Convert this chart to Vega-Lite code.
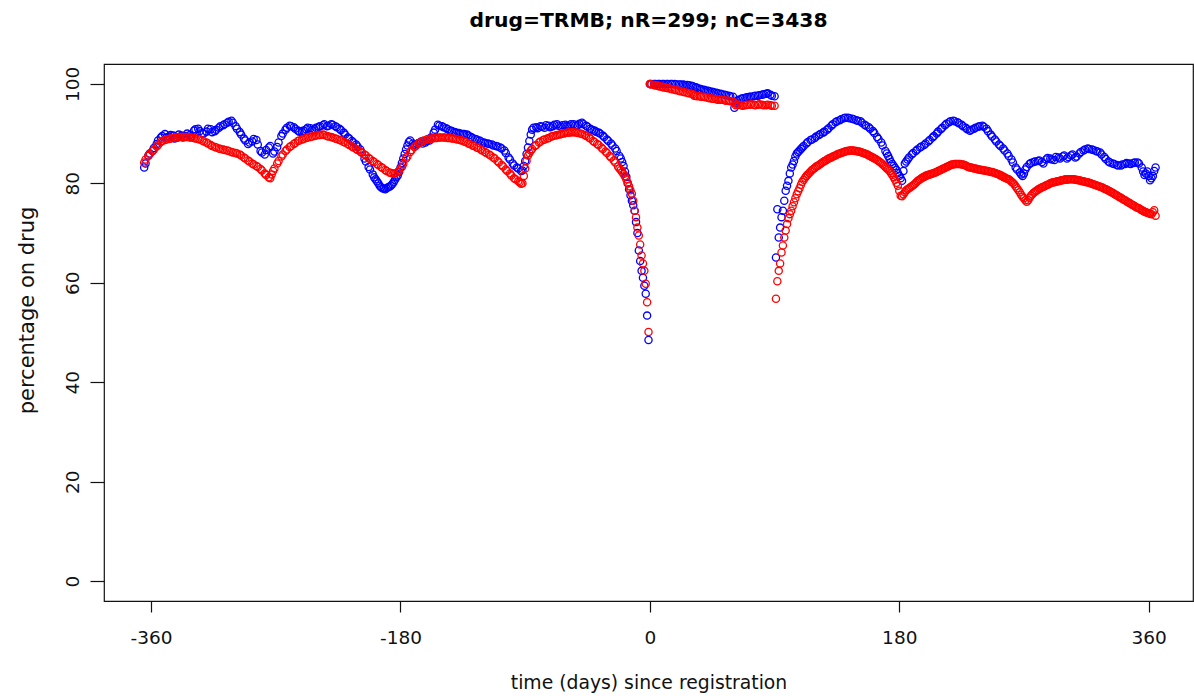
{
"$schema": "https://vega.github.io/schema/vega-lite/v6.json",
"autosize": {"type": "none"},
"width": 1089,
"height": 537,
"padding": {"left": 104, "top": 64, "right": 1, "bottom": 95},
"background": "white",
"config": {"view": {"stroke": "#111", "strokeWidth": 1.2}, "font": "DejaVu Sans"},
"title": {"text": "drug=TRMB; nR=299; nC=3438", "font": "DejaVu Sans", "fontSize": 20.3, "fontWeight": "bold", "color": "#000", "anchor": "middle", "offset": 33},
"data": {"values": [
{"d":-365,"s":"b","v":83.2},{"d":-364,"s":"b","v":84.0},{"d":-362,"s":"b","v":85.6},{"d":-359,"s":"b","v":86.5},{"d":-356,"s":"b","v":87.9},{"d":-353,"s":"b","v":89.2},{"d":-350,"s":"b","v":89.9},{"d":-347,"s":"b","v":89.4},{"d":-344,"s":"b","v":89.6},{"d":-341,"s":"b","v":89.2},{"d":-338,"s":"b","v":89.6},{"d":-335,"s":"b","v":89.5},{"d":-332,"s":"b","v":89.7},{"d":-329,"s":"b","v":90.6},{"d":-326,"s":"b","v":91.0},{"d":-323,"s":"b","v":90.1},{"d":-320,"s":"b","v":90.4},{"d":-317,"s":"b","v":90.9},{"d":-314,"s":"b","v":90.5},{"d":-311,"s":"b","v":91.2},{"d":-308,"s":"b","v":91.7},{"d":-305,"s":"b","v":92.2},{"d":-302,"s":"b","v":92.6},{"d":-299,"s":"b","v":91.5},{"d":-296,"s":"b","v":90.3},{"d":-293,"s":"b","v":89.0},{"d":-290,"s":"b","v":87.9},{"d":-287,"s":"b","v":88.4},{"d":-284,"s":"b","v":88.7},{"d":-281,"s":"b","v":86.5},{"d":-278,"s":"b","v":85.8},{"d":-275,"s":"b","v":87.2},{"d":-272,"s":"b","v":86.0},{"d":-269,"s":"b","v":87.3},{"d":-266,"s":"b","v":89.5},{"d":-263,"s":"b","v":90.8},{"d":-260,"s":"b","v":91.6},{"d":-257,"s":"b","v":91.3},{"d":-254,"s":"b","v":90.6},{"d":-251,"s":"b","v":90.3},{"d":-248,"s":"b","v":90.9},{"d":-245,"s":"b","v":91.1},{"d":-242,"s":"b","v":90.9},{"d":-239,"s":"b","v":91.4},{"d":-236,"s":"b","v":91.7},{"d":-233,"s":"b","v":91.5},{"d":-230,"s":"b","v":91.9},{"d":-227,"s":"b","v":91.5},{"d":-224,"s":"b","v":91.0},{"d":-221,"s":"b","v":90.2},{"d":-218,"s":"b","v":89.2},{"d":-215,"s":"b","v":88.5},{"d":-212,"s":"b","v":87.8},{"d":-209,"s":"b","v":86.8},{"d":-206,"s":"b","v":85.0},{"d":-203,"s":"b","v":83.3},{"d":-200,"s":"b","v":81.8},{"d":-198,"s":"b","v":80.8},{"d":-196,"s":"b","v":80.0},{"d":-194,"s":"b","v":79.2},{"d":-192,"s":"b","v":78.9},{"d":-190,"s":"b","v":79.0},{"d":-188,"s":"b","v":79.3},{"d":-186,"s":"b","v":79.8},{"d":-184,"s":"b","v":80.7},{"d":-182,"s":"b","v":81.6},{"d":-180,"s":"b","v":83.2},{"d":-178,"s":"b","v":85.0},{"d":-176,"s":"b","v":86.8},{"d":-174,"s":"b","v":88.3},{"d":-171,"s":"b","v":88.0},{"d":-168,"s":"b","v":87.9},{"d":-165,"s":"b","v":88.4},{"d":-162,"s":"b","v":88.2},{"d":-159,"s":"b","v":88.6},{"d":-156,"s":"b","v":90.2},{"d":-153,"s":"b","v":91.8},{"d":-150,"s":"b","v":91.5},{"d":-147,"s":"b","v":91.1},{"d":-144,"s":"b","v":90.6},{"d":-141,"s":"b","v":90.3},{"d":-138,"s":"b","v":90.1},{"d":-135,"s":"b","v":89.9},{"d":-132,"s":"b","v":89.8},{"d":-129,"s":"b","v":89.3},{"d":-126,"s":"b","v":88.9},{"d":-123,"s":"b","v":88.6},{"d":-120,"s":"b","v":88.2},{"d":-117,"s":"b","v":88.0},{"d":-114,"s":"b","v":87.8},{"d":-111,"s":"b","v":87.5},{"d":-108,"s":"b","v":87.2},{"d":-105,"s":"b","v":86.6},{"d":-102,"s":"b","v":85.2},{"d":-99,"s":"b","v":84.0},{"d":-96,"s":"b","v":83.2},{"d":-93,"s":"b","v":82.5},{"d":-91,"s":"b","v":83.5},{"d":-89,"s":"b","v":85.9},{"d":-87,"s":"b","v":88.5},{"d":-85,"s":"b","v":90.8},{"d":-82,"s":"b","v":91.3},{"d":-79,"s":"b","v":91.5},{"d":-76,"s":"b","v":91.2},{"d":-73,"s":"b","v":91.6},{"d":-70,"s":"b","v":91.5},{"d":-67,"s":"b","v":91.9},{"d":-64,"s":"b","v":91.4},{"d":-61,"s":"b","v":91.8},{"d":-58,"s":"b","v":91.6},{"d":-55,"s":"b","v":91.9},{"d":-52,"s":"b","v":91.7},{"d":-49,"s":"b","v":92.2},{"d":-46,"s":"b","v":91.6},{"d":-43,"s":"b","v":91.0},{"d":-40,"s":"b","v":90.6},{"d":-37,"s":"b","v":90.2},{"d":-34,"s":"b","v":89.6},{"d":-31,"s":"b","v":88.8},{"d":-28,"s":"b","v":88.0},{"d":-25,"s":"b","v":87.0},{"d":-22,"s":"b","v":85.5},{"d":-20,"s":"b","v":84.3},{"d":-18,"s":"b","v":82.4},{"d":-16,"s":"b","v":80.0},{"d":-15,"s":"b","v":78.8},{"d":-14,"s":"b","v":77.6},{"d":-13,"s":"b","v":76.5},{"d":-12,"s":"b","v":75.6},{"d":-11,"s":"b","v":74.5},{"d":-10,"s":"b","v":72.2},{"d":-9,"s":"b","v":70.0},{"d":-8,"s":"b","v":66.5},{"d":-7,"s":"b","v":64.4},{"d":-6,"s":"b","v":62.4},{"d":-5,"s":"b","v":61.0},{"d":-4,"s":"b","v":59.4},{"d":-3,"s":"b","v":57.8},{"d":-2,"s":"b","v":53.4},{"d":-1,"s":"b","v":48.5},
{"d":-361,"s":"b","v":86.0},{"d":-358,"s":"b","v":87.1},{"d":-355,"s":"b","v":88.6},{"d":-352,"s":"b","v":89.5},{"d":-349,"s":"b","v":89.2},{"d":-346,"s":"b","v":89.7},{"d":-343,"s":"b","v":89.0},{"d":-340,"s":"b","v":89.8},{"d":-337,"s":"b","v":89.2},{"d":-334,"s":"b","v":90.0},{"d":-331,"s":"b","v":89.4},{"d":-328,"s":"b","v":90.9},{"d":-325,"s":"b","v":90.5},{"d":-322,"s":"b","v":90.0},{"d":-319,"s":"b","v":91.0},{"d":-316,"s":"b","v":90.3},{"d":-313,"s":"b","v":90.8},{"d":-310,"s":"b","v":91.5},{"d":-307,"s":"b","v":91.9},{"d":-304,"s":"b","v":92.4},{"d":-301,"s":"b","v":92.2},{"d":-298,"s":"b","v":91.0},{"d":-295,"s":"b","v":89.8},{"d":-292,"s":"b","v":88.6},{"d":-289,"s":"b","v":88.2},{"d":-286,"s":"b","v":88.9},{"d":-283,"s":"b","v":87.8},{"d":-280,"s":"b","v":86.2},{"d":-277,"s":"b","v":86.7},{"d":-274,"s":"b","v":87.5},{"d":-271,"s":"b","v":86.4},{"d":-268,"s":"b","v":88.2},{"d":-265,"s":"b","v":90.0},{"d":-262,"s":"b","v":91.2},{"d":-259,"s":"b","v":91.5},{"d":-256,"s":"b","v":91.0},{"d":-253,"s":"b","v":90.4},{"d":-250,"s":"b","v":90.6},{"d":-247,"s":"b","v":91.2},{"d":-244,"s":"b","v":90.7},{"d":-241,"s":"b","v":91.2},{"d":-238,"s":"b","v":91.5},{"d":-235,"s":"b","v":91.9},{"d":-232,"s":"b","v":91.6},{"d":-229,"s":"b","v":91.8},{"d":-226,"s":"b","v":91.3},{"d":-223,"s":"b","v":90.7},{"d":-220,"s":"b","v":89.8},{"d":-217,"s":"b","v":89.0},{"d":-214,"s":"b","v":88.2},{"d":-211,"s":"b","v":87.4},{"d":-208,"s":"b","v":86.2},{"d":-205,"s":"b","v":84.4},{"d":-202,"s":"b","v":82.8},{"d":-199,"s":"b","v":81.2},{"d":-197,"s":"b","v":80.4},{"d":-195,"s":"b","v":79.5},{"d":-193,"s":"b","v":79.0},{"d":-191,"s":"b","v":78.8},{"d":-189,"s":"b","v":79.2},{"d":-187,"s":"b","v":79.5},{"d":-185,"s":"b","v":80.2},{"d":-183,"s":"b","v":81.2},{"d":-181,"s":"b","v":82.3},{"d":-179,"s":"b","v":84.1},{"d":-177,"s":"b","v":85.9},{"d":-175,"s":"b","v":87.6},{"d":-173,"s":"b","v":88.6},{"d":-170,"s":"b","v":87.7},{"d":-167,"s":"b","v":88.1},{"d":-164,"s":"b","v":88.0},{"d":-161,"s":"b","v":88.5},{"d":-158,"s":"b","v":89.2},{"d":-155,"s":"b","v":90.8},{"d":-152,"s":"b","v":91.6},{"d":-149,"s":"b","v":91.3},{"d":-146,"s":"b","v":90.9},{"d":-143,"s":"b","v":90.5},{"d":-140,"s":"b","v":90.2},{"d":-137,"s":"b","v":90.0},{"d":-134,"s":"b","v":89.9},{"d":-131,"s":"b","v":89.6},{"d":-128,"s":"b","v":89.1},{"d":-125,"s":"b","v":88.8},{"d":-122,"s":"b","v":88.4},{"d":-119,"s":"b","v":88.1},{"d":-116,"s":"b","v":87.9},{"d":-113,"s":"b","v":87.6},{"d":-110,"s":"b","v":87.4},{"d":-107,"s":"b","v":87.0},{"d":-104,"s":"b","v":86.1},{"d":-101,"s":"b","v":84.8},{"d":-98,"s":"b","v":83.6},{"d":-95,"s":"b","v":83.0},{"d":-92,"s":"b","v":82.6},{"d":-90,"s":"b","v":84.5},{"d":-88,"s":"b","v":87.2},{"d":-86,"s":"b","v":89.8},{"d":-84,"s":"b","v":91.2},{"d":-81,"s":"b","v":91.1},{"d":-78,"s":"b","v":91.4},{"d":-75,"s":"b","v":91.7},{"d":-72,"s":"b","v":91.3},{"d":-69,"s":"b","v":91.8},{"d":-66,"s":"b","v":91.6},{"d":-63,"s":"b","v":91.7},{"d":-60,"s":"b","v":91.5},{"d":-57,"s":"b","v":91.9},{"d":-54,"s":"b","v":91.6},{"d":-51,"s":"b","v":92.0},{"d":-48,"s":"b","v":91.9},{"d":-45,"s":"b","v":91.4},{"d":-42,"s":"b","v":90.8},{"d":-39,"s":"b","v":90.4},{"d":-36,"s":"b","v":90.0},{"d":-33,"s":"b","v":89.3},{"d":-30,"s":"b","v":88.5},{"d":-27,"s":"b","v":87.6},{"d":-24,"s":"b","v":86.5},{"d":-21,"s":"b","v":85.0},{"d":-19,"s":"b","v":83.5},{"d":-17,"s":"b","v":81.3},
{"d":0,"s":"b","v":100},{"d":3,"s":"b","v":100},{"d":6,"s":"b","v":100},{"d":9,"s":"b","v":100},{"d":12,"s":"b","v":100},{"d":15,"s":"b","v":100},{"d":18,"s":"b","v":100},{"d":21,"s":"b","v":99.9},{"d":24,"s":"b","v":99.9},{"d":27,"s":"b","v":99.8},{"d":30,"s":"b","v":99.6},{"d":33,"s":"b","v":99.3},{"d":36,"s":"b","v":99.0},{"d":39,"s":"b","v":98.8},{"d":42,"s":"b","v":98.6},{"d":45,"s":"b","v":98.4},{"d":48,"s":"b","v":98.2},{"d":51,"s":"b","v":98.0},{"d":54,"s":"b","v":97.8},{"d":57,"s":"b","v":97.6},{"d":60,"s":"b","v":97.4},{"d":61,"s":"b","v":95.2},{"d":63,"s":"b","v":96.6},{"d":66,"s":"b","v":97.0},{"d":69,"s":"b","v":97.2},{"d":72,"s":"b","v":97.4},{"d":75,"s":"b","v":97.5},{"d":78,"s":"b","v":97.6},{"d":81,"s":"b","v":97.8},{"d":84,"s":"b","v":98.0},{"d":87,"s":"b","v":97.8},{"d":90,"s":"b","v":97.5},
{"d":1,"s":"b","v":100},{"d":4,"s":"b","v":100},{"d":7,"s":"b","v":100},{"d":10,"s":"b","v":100},{"d":13,"s":"b","v":100},{"d":16,"s":"b","v":100},{"d":19,"s":"b","v":99.9},{"d":22,"s":"b","v":99.9},{"d":25,"s":"b","v":99.8},{"d":28,"s":"b","v":99.7},{"d":31,"s":"b","v":99.5},{"d":34,"s":"b","v":99.2},{"d":37,"s":"b","v":98.9},{"d":40,"s":"b","v":98.7},{"d":43,"s":"b","v":98.5},{"d":46,"s":"b","v":98.3},{"d":49,"s":"b","v":98.1},{"d":52,"s":"b","v":97.9},{"d":55,"s":"b","v":97.7},{"d":58,"s":"b","v":97.5},{"d":62,"s":"b","v":96.2},{"d":64,"s":"b","v":96.8},{"d":67,"s":"b","v":97.1},{"d":70,"s":"b","v":97.3},{"d":73,"s":"b","v":97.4},{"d":76,"s":"b","v":97.6},{"d":79,"s":"b","v":97.7},{"d":82,"s":"b","v":97.9},{"d":85,"s":"b","v":98.1},{"d":88,"s":"b","v":97.6},
{"d":91,"s":"b","v":65.1},{"d":92,"s":"b","v":74.8},{"d":93,"s":"b","v":69.1},{"d":94,"s":"b","v":71.1},{"d":95,"s":"b","v":73.2},{"d":96,"s":"b","v":74.5},{"d":97,"s":"b","v":76.5},{"d":98,"s":"b","v":78.5},{"d":99,"s":"b","v":79.5},{"d":100,"s":"b","v":80.5},{"d":101,"s":"b","v":82.0},{"d":102,"s":"b","v":83.2},{"d":104,"s":"b","v":84.5},{"d":106,"s":"b","v":86.0},{"d":108,"s":"b","v":86.6},{"d":110,"s":"b","v":87.2},{"d":113,"s":"b","v":88.0},{"d":116,"s":"b","v":88.7},{"d":119,"s":"b","v":89.1},{"d":122,"s":"b","v":89.7},{"d":125,"s":"b","v":90.2},{"d":128,"s":"b","v":90.8},{"d":131,"s":"b","v":91.6},{"d":134,"s":"b","v":92.3},{"d":137,"s":"b","v":92.7},{"d":140,"s":"b","v":93.1},{"d":143,"s":"b","v":93.2},{"d":146,"s":"b","v":93.0},{"d":149,"s":"b","v":92.7},{"d":152,"s":"b","v":92.5},{"d":155,"s":"b","v":91.8},{"d":158,"s":"b","v":91.3},{"d":161,"s":"b","v":90.5},{"d":164,"s":"b","v":89.3},{"d":167,"s":"b","v":88.2},{"d":170,"s":"b","v":86.5},{"d":172,"s":"b","v":85.5},{"d":174,"s":"b","v":84.3},{"d":176,"s":"b","v":83.5},{"d":178,"s":"b","v":82.7},{"d":180,"s":"b","v":81.5},{"d":182,"s":"b","v":80.5},{"d":184,"s":"b","v":84.0},{"d":186,"s":"b","v":84.8},{"d":189,"s":"b","v":85.8},{"d":192,"s":"b","v":86.5},{"d":195,"s":"b","v":87.2},{"d":198,"s":"b","v":87.7},{"d":201,"s":"b","v":88.4},{"d":204,"s":"b","v":89.2},{"d":207,"s":"b","v":90.0},{"d":210,"s":"b","v":90.9},{"d":213,"s":"b","v":91.7},{"d":216,"s":"b","v":92.3},{"d":219,"s":"b","v":92.6},{"d":222,"s":"b","v":92.3},{"d":225,"s":"b","v":91.8},{"d":228,"s":"b","v":91.2},{"d":231,"s":"b","v":90.6},{"d":234,"s":"b","v":91.0},{"d":237,"s":"b","v":91.4},{"d":240,"s":"b","v":91.6},{"d":243,"s":"b","v":91.0},{"d":246,"s":"b","v":89.8},{"d":249,"s":"b","v":88.8},{"d":252,"s":"b","v":87.8},{"d":255,"s":"b","v":87.0},{"d":258,"s":"b","v":86.0},{"d":261,"s":"b","v":84.8},{"d":264,"s":"b","v":83.2},{"d":267,"s":"b","v":82.2},{"d":269,"s":"b","v":81.5},{"d":271,"s":"b","v":82.8},{"d":274,"s":"b","v":83.9},{"d":277,"s":"b","v":84.3},{"d":280,"s":"b","v":84.5},{"d":283,"s":"b","v":84.3},{"d":286,"s":"b","v":84.8},{"d":289,"s":"b","v":85.0},{"d":292,"s":"b","v":84.7},{"d":295,"s":"b","v":85.2},{"d":298,"s":"b","v":85.4},{"d":301,"s":"b","v":85.0},{"d":304,"s":"b","v":85.6},{"d":307,"s":"b","v":85.2},{"d":310,"s":"b","v":86.0},{"d":313,"s":"b","v":86.6},{"d":316,"s":"b","v":87.0},{"d":319,"s":"b","v":86.8},{"d":322,"s":"b","v":86.5},{"d":325,"s":"b","v":86.2},{"d":328,"s":"b","v":85.3},{"d":331,"s":"b","v":84.4},{"d":334,"s":"b","v":84.0},{"d":337,"s":"b","v":83.7},{"d":340,"s":"b","v":83.6},{"d":343,"s":"b","v":83.9},{"d":346,"s":"b","v":84.0},{"d":349,"s":"b","v":84.1},{"d":352,"s":"b","v":84.2},{"d":355,"s":"b","v":83.2},{"d":357,"s":"b","v":81.7},{"d":359,"s":"b","v":82.4},{"d":361,"s":"b","v":80.6},{"d":363,"s":"b","v":81.5},{"d":365,"s":"b","v":83.2},
{"d":103,"s":"b","v":83.8},{"d":105,"s":"b","v":85.4},{"d":107,"s":"b","v":86.3},{"d":109,"s":"b","v":86.9},{"d":111,"s":"b","v":87.5},{"d":114,"s":"b","v":88.3},{"d":117,"s":"b","v":88.8},{"d":120,"s":"b","v":89.4},{"d":123,"s":"b","v":89.9},{"d":126,"s":"b","v":90.4},{"d":129,"s":"b","v":91.1},{"d":132,"s":"b","v":91.9},{"d":135,"s":"b","v":92.5},{"d":138,"s":"b","v":92.9},{"d":141,"s":"b","v":93.2},{"d":144,"s":"b","v":93.1},{"d":147,"s":"b","v":92.9},{"d":150,"s":"b","v":92.6},{"d":153,"s":"b","v":92.2},{"d":156,"s":"b","v":91.6},{"d":159,"s":"b","v":91.0},{"d":162,"s":"b","v":90.1},{"d":165,"s":"b","v":88.9},{"d":168,"s":"b","v":87.6},{"d":171,"s":"b","v":86.0},{"d":173,"s":"b","v":84.9},{"d":175,"s":"b","v":83.9},{"d":177,"s":"b","v":83.1},{"d":179,"s":"b","v":82.1},{"d":181,"s":"b","v":81.0},{"d":183,"s":"b","v":82.5},{"d":185,"s":"b","v":84.4},{"d":187,"s":"b","v":85.2},{"d":190,"s":"b","v":86.1},{"d":193,"s":"b","v":86.8},{"d":196,"s":"b","v":87.4},{"d":199,"s":"b","v":88.0},{"d":202,"s":"b","v":88.7},{"d":205,"s":"b","v":89.5},{"d":208,"s":"b","v":90.4},{"d":211,"s":"b","v":91.2},{"d":214,"s":"b","v":92.0},{"d":217,"s":"b","v":92.5},{"d":220,"s":"b","v":92.5},{"d":223,"s":"b","v":92.1},{"d":226,"s":"b","v":91.5},{"d":229,"s":"b","v":90.9},{"d":232,"s":"b","v":90.8},{"d":235,"s":"b","v":91.2},{"d":238,"s":"b","v":91.5},{"d":241,"s":"b","v":91.4},{"d":244,"s":"b","v":90.5},{"d":247,"s":"b","v":89.4},{"d":250,"s":"b","v":88.4},{"d":253,"s":"b","v":87.5},{"d":256,"s":"b","v":86.6},{"d":259,"s":"b","v":85.5},{"d":262,"s":"b","v":84.2},{"d":265,"s":"b","v":82.8},{"d":268,"s":"b","v":81.8},{"d":270,"s":"b","v":82.0},{"d":272,"s":"b","v":83.3},{"d":275,"s":"b","v":84.1},{"d":278,"s":"b","v":84.4},{"d":281,"s":"b","v":84.6},{"d":284,"s":"b","v":84.0},{"d":287,"s":"b","v":85.1},{"d":290,"s":"b","v":84.8},{"d":293,"s":"b","v":85.3},{"d":296,"s":"b","v":85.0},{"d":299,"s":"b","v":85.6},{"d":302,"s":"b","v":85.3},{"d":305,"s":"b","v":85.8},{"d":308,"s":"b","v":85.4},{"d":311,"s":"b","v":86.3},{"d":314,"s":"b","v":86.8},{"d":317,"s":"b","v":86.9},{"d":320,"s":"b","v":86.7},{"d":323,"s":"b","v":86.4},{"d":326,"s":"b","v":85.8},{"d":329,"s":"b","v":84.9},{"d":332,"s":"b","v":84.2},{"d":335,"s":"b","v":83.9},{"d":338,"s":"b","v":83.6},{"d":341,"s":"b","v":83.8},{"d":344,"s":"b","v":84.1},{"d":347,"s":"b","v":83.9},{"d":350,"s":"b","v":84.2},{"d":353,"s":"b","v":84.0},{"d":356,"s":"b","v":82.4},{"d":358,"s":"b","v":82.0},{"d":360,"s":"b","v":81.5},{"d":362,"s":"b","v":81.0},{"d":364,"s":"b","v":82.5},
{"d":-365,"s":"r","v":84.2},{"d":-362,"s":"r","v":85.5},{"d":-359,"s":"r","v":86.5},{"d":-356,"s":"r","v":87.4},{"d":-353,"s":"r","v":88.3},{"d":-350,"s":"r","v":88.7},{"d":-347,"s":"r","v":88.9},{"d":-344,"s":"r","v":89.1},{"d":-341,"s":"r","v":89.2},{"d":-338,"s":"r","v":89.3},{"d":-335,"s":"r","v":89.3},{"d":-332,"s":"r","v":89.2},{"d":-329,"s":"r","v":89.1},{"d":-326,"s":"r","v":88.9},{"d":-323,"s":"r","v":88.6},{"d":-320,"s":"r","v":88.2},{"d":-317,"s":"r","v":87.7},{"d":-314,"s":"r","v":87.3},{"d":-311,"s":"r","v":87.0},{"d":-308,"s":"r","v":86.8},{"d":-305,"s":"r","v":86.6},{"d":-302,"s":"r","v":86.3},{"d":-299,"s":"r","v":86.1},{"d":-296,"s":"r","v":85.8},{"d":-293,"s":"r","v":85.2},{"d":-290,"s":"r","v":84.6},{"d":-287,"s":"r","v":84.0},{"d":-284,"s":"r","v":83.5},{"d":-281,"s":"r","v":82.9},{"d":-278,"s":"r","v":82.0},{"d":-275,"s":"r","v":81.2},{"d":-272,"s":"r","v":82.5},{"d":-269,"s":"r","v":84.0},{"d":-266,"s":"r","v":85.4},{"d":-263,"s":"r","v":86.5},{"d":-260,"s":"r","v":87.3},{"d":-257,"s":"r","v":87.9},{"d":-254,"s":"r","v":88.5},{"d":-251,"s":"r","v":88.8},{"d":-248,"s":"r","v":89.1},{"d":-245,"s":"r","v":89.3},{"d":-242,"s":"r","v":89.5},{"d":-239,"s":"r","v":89.7},{"d":-236,"s":"r","v":89.8},{"d":-233,"s":"r","v":89.5},{"d":-230,"s":"r","v":89.3},{"d":-227,"s":"r","v":89.0},{"d":-224,"s":"r","v":88.7},{"d":-221,"s":"r","v":88.3},{"d":-218,"s":"r","v":87.9},{"d":-215,"s":"r","v":87.4},{"d":-212,"s":"r","v":86.9},{"d":-209,"s":"r","v":86.4},{"d":-206,"s":"r","v":85.8},{"d":-203,"s":"r","v":85.1},{"d":-200,"s":"r","v":84.5},{"d":-197,"s":"r","v":83.9},{"d":-194,"s":"r","v":83.3},{"d":-191,"s":"r","v":82.7},{"d":-188,"s":"r","v":82.2},{"d":-185,"s":"r","v":82.0},{"d":-182,"s":"r","v":82.3},{"d":-179,"s":"r","v":83.3},{"d":-176,"s":"r","v":85.0},{"d":-173,"s":"r","v":86.3},{"d":-170,"s":"r","v":87.3},{"d":-167,"s":"r","v":88.0},{"d":-164,"s":"r","v":88.5},{"d":-161,"s":"r","v":88.8},{"d":-158,"s":"r","v":89.0},{"d":-155,"s":"r","v":89.1},{"d":-152,"s":"r","v":89.2},{"d":-149,"s":"r","v":89.2},{"d":-146,"s":"r","v":89.1},{"d":-143,"s":"r","v":89.0},{"d":-140,"s":"r","v":88.9},{"d":-137,"s":"r","v":88.7},{"d":-134,"s":"r","v":88.4},{"d":-131,"s":"r","v":88.0},{"d":-128,"s":"r","v":87.6},{"d":-125,"s":"r","v":87.2},{"d":-122,"s":"r","v":86.8},{"d":-119,"s":"r","v":86.3},{"d":-116,"s":"r","v":85.8},{"d":-113,"s":"r","v":85.2},{"d":-110,"s":"r","v":84.5},{"d":-107,"s":"r","v":83.7},{"d":-104,"s":"r","v":82.8},{"d":-101,"s":"r","v":82.0},{"d":-98,"s":"r","v":81.0},{"d":-95,"s":"r","v":80.4},{"d":-92,"s":"r","v":80.0},{"d":-91,"s":"r","v":81.5},{"d":-89,"s":"r","v":84.5},{"d":-86,"s":"r","v":86.6},{"d":-83,"s":"r","v":87.5},{"d":-80,"s":"r","v":88.2},{"d":-77,"s":"r","v":88.7},{"d":-74,"s":"r","v":89.0},{"d":-71,"s":"r","v":89.4},{"d":-68,"s":"r","v":89.6},{"d":-65,"s":"r","v":89.8},{"d":-62,"s":"r","v":90.0},{"d":-59,"s":"r","v":90.2},{"d":-56,"s":"r","v":90.3},{"d":-53,"s":"r","v":90.2},{"d":-50,"s":"r","v":90.0},{"d":-47,"s":"r","v":89.7},{"d":-44,"s":"r","v":89.2},{"d":-41,"s":"r","v":88.5},{"d":-38,"s":"r","v":87.9},{"d":-35,"s":"r","v":87.2},{"d":-32,"s":"r","v":86.4},{"d":-29,"s":"r","v":85.5},{"d":-26,"s":"r","v":84.6},{"d":-23,"s":"r","v":83.4},{"d":-20,"s":"r","v":82.3},{"d":-18,"s":"r","v":81.4},{"d":-16,"s":"r","v":80.1},{"d":-14,"s":"r","v":78.6},{"d":-13,"s":"r","v":77.9},{"d":-12,"s":"r","v":76.5},{"d":-11,"s":"r","v":74.5},{"d":-10,"s":"r","v":73.2},{"d":-9,"s":"r","v":71.1},{"d":-8,"s":"r","v":69.5},{"d":-7,"s":"r","v":67.7},{"d":-6,"s":"r","v":65.5},{"d":-5,"s":"r","v":63.9},{"d":-4,"s":"r","v":62.4},{"d":-3,"s":"r","v":59.8},{"d":-2,"s":"r","v":56.1},{"d":-1,"s":"r","v":50.1},
{"d":-364,"s":"r","v":84.8},{"d":-361,"s":"r","v":85.9},{"d":-358,"s":"r","v":86.8},{"d":-355,"s":"r","v":87.7},{"d":-352,"s":"r","v":88.5},{"d":-349,"s":"r","v":88.8},{"d":-346,"s":"r","v":89.0},{"d":-343,"s":"r","v":89.2},{"d":-340,"s":"r","v":89.3},{"d":-337,"s":"r","v":89.3},{"d":-334,"s":"r","v":89.3},{"d":-331,"s":"r","v":89.2},{"d":-328,"s":"r","v":89.0},{"d":-325,"s":"r","v":88.8},{"d":-322,"s":"r","v":88.4},{"d":-319,"s":"r","v":88.0},{"d":-316,"s":"r","v":87.5},{"d":-313,"s":"r","v":87.2},{"d":-310,"s":"r","v":86.9},{"d":-307,"s":"r","v":86.7},{"d":-304,"s":"r","v":86.5},{"d":-301,"s":"r","v":86.2},{"d":-298,"s":"r","v":86.0},{"d":-295,"s":"r","v":85.6},{"d":-292,"s":"r","v":85.0},{"d":-289,"s":"r","v":84.4},{"d":-286,"s":"r","v":83.8},{"d":-283,"s":"r","v":83.3},{"d":-280,"s":"r","v":82.6},{"d":-277,"s":"r","v":81.7},{"d":-274,"s":"r","v":81.0},{"d":-273,"s":"r","v":81.8},{"d":-271,"s":"r","v":83.0},{"d":-268,"s":"r","v":84.5},{"d":-265,"s":"r","v":85.8},{"d":-262,"s":"r","v":86.8},{"d":-259,"s":"r","v":87.5},{"d":-256,"s":"r","v":88.1},{"d":-253,"s":"r","v":88.6},{"d":-250,"s":"r","v":88.9},{"d":-247,"s":"r","v":89.2},{"d":-244,"s":"r","v":89.4},{"d":-241,"s":"r","v":89.6},{"d":-238,"s":"r","v":89.7},{"d":-235,"s":"r","v":89.7},{"d":-232,"s":"r","v":89.4},{"d":-229,"s":"r","v":89.2},{"d":-226,"s":"r","v":88.9},{"d":-223,"s":"r","v":88.6},{"d":-220,"s":"r","v":88.2},{"d":-217,"s":"r","v":87.7},{"d":-214,"s":"r","v":87.2},{"d":-211,"s":"r","v":86.7},{"d":-208,"s":"r","v":86.2},{"d":-205,"s":"r","v":85.6},{"d":-202,"s":"r","v":84.9},{"d":-199,"s":"r","v":84.3},{"d":-196,"s":"r","v":83.7},{"d":-193,"s":"r","v":83.1},{"d":-190,"s":"r","v":82.5},{"d":-187,"s":"r","v":82.1},{"d":-184,"s":"r","v":82.0},{"d":-181,"s":"r","v":82.6},{"d":-178,"s":"r","v":83.9},{"d":-175,"s":"r","v":85.4},{"d":-172,"s":"r","v":86.7},{"d":-169,"s":"r","v":87.5},{"d":-166,"s":"r","v":88.2},{"d":-163,"s":"r","v":88.6},{"d":-160,"s":"r","v":88.9},{"d":-157,"s":"r","v":89.0},{"d":-154,"s":"r","v":89.1},{"d":-151,"s":"r","v":89.2},{"d":-148,"s":"r","v":89.2},{"d":-145,"s":"r","v":89.1},{"d":-142,"s":"r","v":89.0},{"d":-139,"s":"r","v":88.8},{"d":-136,"s":"r","v":88.6},{"d":-133,"s":"r","v":88.3},{"d":-130,"s":"r","v":87.9},{"d":-127,"s":"r","v":87.5},{"d":-124,"s":"r","v":87.1},{"d":-121,"s":"r","v":86.6},{"d":-118,"s":"r","v":86.1},{"d":-115,"s":"r","v":85.6},{"d":-112,"s":"r","v":85.0},{"d":-109,"s":"r","v":84.2},{"d":-106,"s":"r","v":83.4},{"d":-103,"s":"r","v":82.5},{"d":-100,"s":"r","v":81.6},{"d":-97,"s":"r","v":80.8},{"d":-94,"s":"r","v":80.2},{"d":-93,"s":"r","v":79.9},{"d":-90,"s":"r","v":83.0},{"d":-88,"s":"r","v":85.6},{"d":-87,"s":"r","v":86.1},{"d":-85,"s":"r","v":86.9},{"d":-82,"s":"r","v":87.7},{"d":-79,"s":"r","v":88.4},{"d":-76,"s":"r","v":88.8},{"d":-73,"s":"r","v":89.1},{"d":-70,"s":"r","v":89.5},{"d":-67,"s":"r","v":89.7},{"d":-64,"s":"r","v":89.9},{"d":-61,"s":"r","v":90.1},{"d":-58,"s":"r","v":90.2},{"d":-55,"s":"r","v":90.3},{"d":-52,"s":"r","v":90.1},{"d":-49,"s":"r","v":89.9},{"d":-46,"s":"r","v":89.5},{"d":-43,"s":"r","v":89.0},{"d":-40,"s":"r","v":88.3},{"d":-37,"s":"r","v":87.7},{"d":-34,"s":"r","v":86.9},{"d":-31,"s":"r","v":86.1},{"d":-28,"s":"r","v":85.2},{"d":-25,"s":"r","v":84.2},{"d":-22,"s":"r","v":83.0},{"d":-21,"s":"r","v":82.7},{"d":-19,"s":"r","v":81.9},{"d":-17,"s":"r","v":80.8},{"d":-15,"s":"r","v":79.4},
{"d":0,"s":"r","v":100},{"d":3,"s":"r","v":99.8},{"d":6,"s":"r","v":99.6},{"d":9,"s":"r","v":99.4},{"d":12,"s":"r","v":99.2},{"d":15,"s":"r","v":99.0},{"d":18,"s":"r","v":98.8},{"d":21,"s":"r","v":98.6},{"d":24,"s":"r","v":98.4},{"d":27,"s":"r","v":98.2},{"d":30,"s":"r","v":98.0},{"d":33,"s":"r","v":97.6},{"d":36,"s":"r","v":97.5},{"d":39,"s":"r","v":97.4},{"d":42,"s":"r","v":97.2},{"d":45,"s":"r","v":97.0},{"d":48,"s":"r","v":96.9},{"d":51,"s":"r","v":96.8},{"d":54,"s":"r","v":96.7},{"d":57,"s":"r","v":96.6},{"d":60,"s":"r","v":96.4},{"d":63,"s":"r","v":95.8},{"d":66,"s":"r","v":95.7},{"d":69,"s":"r","v":95.7},{"d":72,"s":"r","v":95.8},{"d":75,"s":"r","v":95.8},{"d":78,"s":"r","v":95.8},{"d":81,"s":"r","v":95.8},{"d":84,"s":"r","v":95.7},{"d":87,"s":"r","v":95.7},{"d":90,"s":"r","v":95.6},
{"d":1,"s":"r","v":99.9},{"d":4,"s":"r","v":99.7},{"d":7,"s":"r","v":99.5},{"d":10,"s":"r","v":99.3},{"d":13,"s":"r","v":99.1},{"d":16,"s":"r","v":98.9},{"d":19,"s":"r","v":98.7},{"d":22,"s":"r","v":98.5},{"d":25,"s":"r","v":98.3},{"d":28,"s":"r","v":98.1},{"d":31,"s":"r","v":97.9},{"d":32,"s":"r","v":97.6},{"d":34,"s":"r","v":97.5},{"d":37,"s":"r","v":97.4},{"d":40,"s":"r","v":97.3},{"d":43,"s":"r","v":97.1},{"d":46,"s":"r","v":97.0},{"d":49,"s":"r","v":96.8},{"d":52,"s":"r","v":96.8},{"d":55,"s":"r","v":96.6},{"d":58,"s":"r","v":96.5},{"d":61,"s":"r","v":96.2},{"d":62,"s":"r","v":95.7},{"d":64,"s":"r","v":95.8},{"d":67,"s":"r","v":95.6},{"d":70,"s":"r","v":95.8},{"d":73,"s":"r","v":95.9},{"d":76,"s":"r","v":95.7},{"d":79,"s":"r","v":95.9},{"d":82,"s":"r","v":95.7},{"d":85,"s":"r","v":95.8},{"d":88,"s":"r","v":95.6},
{"d":91,"s":"r","v":56.8},{"d":92,"s":"r","v":60.3},{"d":93,"s":"r","v":62.4},{"d":94,"s":"r","v":63.9},{"d":95,"s":"r","v":66.1},{"d":96,"s":"r","v":67.5},{"d":97,"s":"r","v":69.1},{"d":98,"s":"r","v":70.5},{"d":99,"s":"r","v":71.8},{"d":100,"s":"r","v":73.0},{"d":102,"s":"r","v":74.5},{"d":104,"s":"r","v":76.2},{"d":106,"s":"r","v":77.8},{"d":108,"s":"r","v":79.0},{"d":110,"s":"r","v":80.3},{"d":113,"s":"r","v":81.5},{"d":116,"s":"r","v":82.4},{"d":119,"s":"r","v":83.1},{"d":122,"s":"r","v":83.7},{"d":125,"s":"r","v":84.3},{"d":128,"s":"r","v":84.8},{"d":131,"s":"r","v":85.2},{"d":134,"s":"r","v":85.6},{"d":137,"s":"r","v":86.0},{"d":140,"s":"r","v":86.3},{"d":143,"s":"r","v":86.5},{"d":146,"s":"r","v":86.6},{"d":149,"s":"r","v":86.5},{"d":152,"s":"r","v":86.3},{"d":155,"s":"r","v":86.0},{"d":158,"s":"r","v":85.6},{"d":161,"s":"r","v":85.2},{"d":164,"s":"r","v":84.7},{"d":167,"s":"r","v":84.1},{"d":170,"s":"r","v":83.3},{"d":173,"s":"r","v":82.5},{"d":176,"s":"r","v":81.2},{"d":179,"s":"r","v":79.5},{"d":181,"s":"r","v":77.5},{"d":183,"s":"r","v":77.8},{"d":185,"s":"r","v":78.6},{"d":188,"s":"r","v":79.2},{"d":191,"s":"r","v":79.8},{"d":194,"s":"r","v":80.6},{"d":197,"s":"r","v":81.2},{"d":200,"s":"r","v":81.6},{"d":203,"s":"r","v":81.9},{"d":206,"s":"r","v":82.2},{"d":209,"s":"r","v":82.6},{"d":212,"s":"r","v":83.0},{"d":215,"s":"r","v":83.4},{"d":218,"s":"r","v":83.8},{"d":221,"s":"r","v":83.9},{"d":224,"s":"r","v":83.9},{"d":227,"s":"r","v":83.7},{"d":230,"s":"r","v":83.3},{"d":233,"s":"r","v":83.1},{"d":236,"s":"r","v":82.9},{"d":239,"s":"r","v":82.7},{"d":242,"s":"r","v":82.6},{"d":245,"s":"r","v":82.4},{"d":248,"s":"r","v":82.2},{"d":251,"s":"r","v":81.9},{"d":254,"s":"r","v":81.5},{"d":257,"s":"r","v":81.0},{"d":260,"s":"r","v":80.6},{"d":263,"s":"r","v":79.8},{"d":266,"s":"r","v":78.6},{"d":269,"s":"r","v":77.3},{"d":272,"s":"r","v":76.3},{"d":275,"s":"r","v":77.5},{"d":278,"s":"r","v":78.3},{"d":281,"s":"r","v":78.9},{"d":284,"s":"r","v":79.3},{"d":287,"s":"r","v":79.7},{"d":290,"s":"r","v":80.1},{"d":293,"s":"r","v":80.3},{"d":296,"s":"r","v":80.5},{"d":299,"s":"r","v":80.7},{"d":302,"s":"r","v":80.8},{"d":305,"s":"r","v":80.8},{"d":308,"s":"r","v":80.7},{"d":311,"s":"r","v":80.5},{"d":314,"s":"r","v":80.3},{"d":317,"s":"r","v":80.1},{"d":320,"s":"r","v":79.8},{"d":323,"s":"r","v":79.5},{"d":326,"s":"r","v":79.2},{"d":329,"s":"r","v":78.8},{"d":332,"s":"r","v":78.4},{"d":335,"s":"r","v":77.9},{"d":338,"s":"r","v":77.4},{"d":341,"s":"r","v":76.9},{"d":344,"s":"r","v":76.4},{"d":347,"s":"r","v":75.9},{"d":350,"s":"r","v":75.4},{"d":353,"s":"r","v":75.0},{"d":356,"s":"r","v":74.5},{"d":359,"s":"r","v":74.1},{"d":362,"s":"r","v":73.8},{"d":364,"s":"r","v":74.6},{"d":365,"s":"r","v":73.5},
{"d":101,"s":"r","v":73.8},{"d":103,"s":"r","v":75.4},{"d":105,"s":"r","v":77.0},{"d":107,"s":"r","v":78.4},{"d":109,"s":"r","v":79.7},{"d":111,"s":"r","v":80.7},{"d":112,"s":"r","v":81.1},{"d":114,"s":"r","v":81.8},{"d":115,"s":"r","v":82.1},{"d":117,"s":"r","v":82.7},{"d":118,"s":"r","v":82.9},{"d":120,"s":"r","v":83.4},{"d":121,"s":"r","v":83.5},{"d":123,"s":"r","v":83.9},{"d":124,"s":"r","v":84.1},{"d":126,"s":"r","v":84.5},{"d":127,"s":"r","v":84.6},{"d":129,"s":"r","v":85.0},{"d":130,"s":"r","v":85.1},{"d":132,"s":"r","v":85.4},{"d":133,"s":"r","v":85.5},{"d":135,"s":"r","v":85.8},{"d":136,"s":"r","v":85.9},{"d":138,"s":"r","v":86.1},{"d":139,"s":"r","v":86.2},{"d":141,"s":"r","v":86.4},{"d":142,"s":"r","v":86.5},{"d":144,"s":"r","v":86.6},{"d":145,"s":"r","v":86.6},{"d":147,"s":"r","v":86.6},{"d":148,"s":"r","v":86.5},{"d":150,"s":"r","v":86.4},{"d":151,"s":"r","v":86.4},{"d":153,"s":"r","v":86.2},{"d":154,"s":"r","v":86.1},{"d":156,"s":"r","v":85.9},{"d":157,"s":"r","v":85.8},{"d":159,"s":"r","v":85.5},{"d":160,"s":"r","v":85.3},{"d":162,"s":"r","v":85.0},{"d":163,"s":"r","v":84.9},{"d":165,"s":"r","v":84.5},{"d":166,"s":"r","v":84.3},{"d":168,"s":"r","v":83.8},{"d":169,"s":"r","v":83.6},{"d":171,"s":"r","v":83.0},{"d":172,"s":"r","v":82.8},{"d":174,"s":"r","v":82.1},{"d":175,"s":"r","v":81.7},{"d":177,"s":"r","v":80.7},{"d":178,"s":"r","v":80.1},{"d":180,"s":"r","v":78.5},{"d":182,"s":"r","v":77.4},{"d":184,"s":"r","v":78.2},{"d":186,"s":"r","v":78.8},{"d":187,"s":"r","v":79.0},{"d":189,"s":"r","v":79.4},{"d":190,"s":"r","v":79.6},{"d":192,"s":"r","v":80.1},{"d":193,"s":"r","v":80.4},{"d":195,"s":"r","v":80.8},{"d":196,"s":"r","v":81.0},{"d":198,"s":"r","v":81.3},{"d":199,"s":"r","v":81.5},{"d":201,"s":"r","v":81.7},{"d":202,"s":"r","v":81.8},{"d":204,"s":"r","v":82.0},{"d":205,"s":"r","v":82.1},{"d":207,"s":"r","v":82.3},{"d":208,"s":"r","v":82.5},{"d":210,"s":"r","v":82.7},{"d":211,"s":"r","v":82.9},{"d":213,"s":"r","v":83.1},{"d":214,"s":"r","v":83.3},{"d":216,"s":"r","v":83.5},{"d":217,"s":"r","v":83.7},{"d":219,"s":"r","v":83.8},{"d":220,"s":"r","v":83.9},{"d":222,"s":"r","v":83.9},{"d":223,"s":"r","v":83.9},{"d":225,"s":"r","v":83.8},{"d":226,"s":"r","v":83.8},{"d":228,"s":"r","v":83.6},{"d":229,"s":"r","v":83.4},{"d":231,"s":"r","v":83.2},{"d":232,"s":"r","v":83.2},{"d":234,"s":"r","v":83.0},{"d":235,"s":"r","v":83.0},{"d":237,"s":"r","v":82.8},{"d":238,"s":"r","v":82.8},{"d":240,"s":"r","v":82.7},{"d":241,"s":"r","v":82.6},{"d":243,"s":"r","v":82.5},{"d":244,"s":"r","v":82.5},{"d":246,"s":"r","v":82.3},{"d":247,"s":"r","v":82.3},{"d":249,"s":"r","v":82.1},{"d":250,"s":"r","v":82.0},{"d":252,"s":"r","v":81.8},{"d":253,"s":"r","v":81.6},{"d":255,"s":"r","v":81.3},{"d":256,"s":"r","v":81.2},{"d":258,"s":"r","v":80.9},{"d":259,"s":"r","v":80.8},{"d":261,"s":"r","v":80.3},{"d":262,"s":"r","v":80.1},{"d":264,"s":"r","v":79.4},{"d":265,"s":"r","v":79.0},{"d":267,"s":"r","v":78.2},{"d":268,"s":"r","v":77.7},{"d":270,"s":"r","v":77.0},{"d":271,"s":"r","v":76.6},{"d":273,"s":"r","v":76.6},{"d":274,"s":"r","v":77.1},{"d":276,"s":"r","v":77.8},{"d":277,"s":"r","v":78.1},{"d":279,"s":"r","v":78.5},{"d":280,"s":"r","v":78.7},{"d":282,"s":"r","v":79.0},{"d":283,"s":"r","v":79.2},{"d":285,"s":"r","v":79.4},{"d":286,"s":"r","v":79.6},{"d":288,"s":"r","v":79.8},{"d":289,"s":"r","v":80.0},{"d":291,"s":"r","v":80.2},{"d":292,"s":"r","v":80.2},{"d":294,"s":"r","v":80.4},{"d":295,"s":"r","v":80.4},{"d":297,"s":"r","v":80.6},{"d":298,"s":"r","v":80.6},{"d":300,"s":"r","v":80.8},{"d":301,"s":"r","v":80.7},{"d":303,"s":"r","v":80.8},{"d":304,"s":"r","v":80.8},{"d":306,"s":"r","v":80.8},{"d":307,"s":"r","v":80.7},{"d":309,"s":"r","v":80.6},{"d":310,"s":"r","v":80.6},{"d":312,"s":"r","v":80.4},{"d":313,"s":"r","v":80.4},{"d":315,"s":"r","v":80.2},{"d":316,"s":"r","v":80.2},{"d":318,"s":"r","v":80.0},{"d":319,"s":"r","v":79.9},{"d":321,"s":"r","v":79.7},{"d":322,"s":"r","v":79.6},{"d":324,"s":"r","v":79.4},{"d":325,"s":"r","v":79.3},{"d":327,"s":"r","v":79.1},{"d":328,"s":"r","v":78.9},{"d":330,"s":"r","v":78.7},{"d":331,"s":"r","v":78.5},{"d":333,"s":"r","v":78.2},{"d":334,"s":"r","v":78.1},{"d":336,"s":"r","v":77.7},{"d":337,"s":"r","v":77.6},{"d":339,"s":"r","v":77.2},{"d":340,"s":"r","v":77.1},{"d":342,"s":"r","v":76.7},{"d":343,"s":"r","v":76.6},{"d":345,"s":"r","v":76.2},{"d":346,"s":"r","v":76.1},{"d":348,"s":"r","v":75.7},{"d":349,"s":"r","v":75.6},{"d":351,"s":"r","v":75.2},{"d":352,"s":"r","v":75.1},{"d":354,"s":"r","v":74.8},{"d":355,"s":"r","v":74.6},{"d":357,"s":"r","v":74.3},{"d":358,"s":"r","v":74.2},{"d":360,"s":"r","v":74.0},{"d":361,"s":"r","v":73.9},{"d":363,"s":"r","v":74.2}
]},
"mark": {"type": "point", "shape": "circle", "filled": false, "size": 52, "strokeWidth": 1.3, "opacity": 1},
"encoding": {
"x": {"field": "d", "type": "quantitative", "scale": {"domain": [-394, 392], "nice": false, "zero": false},
 "axis": {"values": [-360, -180, 0, 180, 360], "labelExpr": "toString(datum.value)", "grid": false, "domain": false, "tickSize": 11, "tickColor": "#111", "tickWidth": 1.2, "labelFont": "DejaVu Sans", "labelFontSize": 18.5, "labelColor": "#111", "labelPadding": 16, "title": "time (days) since registration", "titleFont": "DejaVu Sans", "titleFontSize": 18.8, "titleFontWeight": "normal", "titleColor": "#111", "titlePadding": 27}},
"y": {"field": "v", "type": "quantitative", "scale": {"domain": [-4, 104], "nice": false, "zero": false},
 "axis": {"values": [0, 20, 40, 60, 80, 100], "labelExpr": "toString(datum.value)", "grid": false, "domain": false, "tickSize": 14, "tickColor": "#111", "tickWidth": 1.2, "labelFont": "DejaVu Sans", "labelFontSize": 18.5, "labelColor": "#111", "labelAngle": -90, "labelPadding": 8, "title": "percentage on drug", "titleFont": "DejaVu Sans", "titleFontSize": 21, "titleFontWeight": "normal", "titleColor": "#111", "titlePadding": 26, "titleY": 246}},
"color": {"field": "s", "type": "nominal", "scale": {"domain": ["b", "r"], "range": ["#0000FF", "#FF0000"]}, "legend": null}
}
}
